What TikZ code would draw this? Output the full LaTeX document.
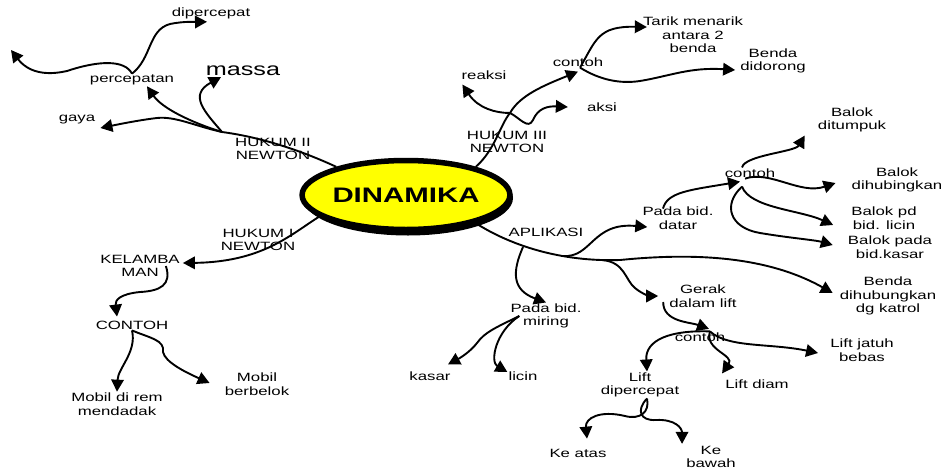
\documentclass[tikz,border=0pt]{standalone}
\usepackage{fontspec}
\setmainfont{Liberation Sans}[FakeStretch=1.4]
\usetikzlibrary{arrows.meta}
\usetikzlibrary{shapes.geometric}
\definecolor{kuning}{RGB}{255, 255, 0}
\tikzset{
  lbl/.style={align=center, inner sep=1pt, font=\fontsize{12}{13.5}\selectfont},
  cabang/.style={line width=1.9pt},
  panah/.style={cabang, -{Triangle[length=12pt,width=12.5pt]}},
}

\begin{document}
\begin{tikzpicture}[x=1pt,y=-1pt]
\useasboundingbox (0,0) rectangle (944,469);
% pusat
\fill[black] (408,198) ellipse (105pt and 37.5pt);
\node[ellipse, draw, line width=5.5pt, fill=kuning, minimum width=205pt, minimum height=69pt, inner sep=0pt,
      font=\fontsize{21}{24}\selectfont\bfseries] (dinamika) at (406,195) {DINAMIKA};

% label
\node[lbl] (hk2)        at (273,149) {HUKUM II\\NEWTON};
\node[lbl] (hk3)        at (507,142) {HUKUM III\\NEWTON};
\node[lbl] (hk1)        at (258,240) {HUKUM I\\NEWTON};
\node[lbl] (aplikasi)   at (546,232) {APLIKASI};
\node[lbl] (gaya)       at ( 77,120) {gaya};
\node[lbl] (percepatan) at (132, 80) {percepatan};
\node[lbl, font=\fontsize{18}{20}\selectfont] (massa) at (243,71) {massa};
\node[lbl] (dipercepat) at (211, 13) {dipercepat};
\node[lbl] (reaksi)     at (484, 75) {reaksi};
\node[lbl] (aksi)       at (602,107) {aksi};
\node[lbl] (contoh3)    at (578, 62) {contoh};
\node[lbl] (tarik)      at (693, 35) {Tarik menarik\\antara 2\\benda};
\node[lbl] (didorong)   at (773, 61) {Benda\\didorong};
\node[lbl] (kelambaman) at (140,266) {KELAMBA\\MAN};
\node[lbl] (contoh1)    at (132,325) {CONTOH};
\node[lbl] (mobilrem)   at (117,404) {Mobil di rem\\mendadak};
\node[lbl] (belok)      at (257,384) {Mobil\\berbelok};
\node[lbl] (miring)     at (546,316) {Pada bid.\\miring};
\node[lbl] (kasar)      at (430,376) {kasar};
\node[lbl] (licin)      at (523,376) {licin};
\node[lbl] (datar)      at (678,218) {Pada bid.\\datar};
\node[lbl] (contohd)    at (750,173) {contoh};
\node[lbl] (tumpuk)     at (852,120) {Balok\\ditumpuk};
\node[lbl] (hubung)     at (897,180) {Balok\\dihubingkan};
\node[lbl] (licinb)     at (884,218) {Balok pd\\bid. licin};
\node[lbl] (kasarb)     at (890,247) {Balok pada\\bid.kasar};
\node[lbl] (katrol)     at (888,296) {Benda\\dihubungkan\\dg katrol};
\node[lbl] (lift)       at (703,296) {Gerak\\dalam lift};
\node[lbl] (contohl)    at (700,337) {contoh};
\node[lbl] (jatuh)      at (862,350) {Lift jatuh\\bebas};
\node[lbl] (diam)       at (757,384) {Lift diam};
\node[lbl] (liftcepat)  at (640,385) {Lift\\dipercepat};
\node[lbl] (atas)       at (578,453) {Ke atas};
\node[lbl] (bawah)      at (711,457) {Ke\\bawah};

% titik cabang
\coordinate (j2)   at (222,132);
\coordinate (j3)   at (510,113);
\coordinate (kiri) at ( 11, 50);
\coordinate (am)   at (523,247);
\coordinate (ad)   at (563,256);
\coordinate (al)   at (602,260);

% hukum II
\draw[cabang] (dinamika.158) .. controls (300,150) and (260,137) .. (j2);
\draw[panah] (j2) .. controls (195,126) and (175,116) .. (157,118) .. controls (140,120) and (120,124) .. ([xshift=4pt,yshift=-8pt]gaya.east);
\draw[panah] (j2) .. controls (190,122) and (162,108) .. ([xshift=15pt]percepatan.south);
\draw[panah] (j2) .. controls (205,112) and (188,95) .. ([xshift=-22pt]massa.south);
\draw[panah] (percepatan.north) .. controls (125,60) and (100,60) .. (67,71) .. controls (45,76) and (28,72) .. (kiri);
\draw[panah] (percepatan.north) .. controls (152,58) and (148,30) .. (170,24) .. controls (185,21) and (195,22) .. ([xshift=-4pt,yshift=-2pt]dipercepat.south);

% hukum III
\draw[cabang] (dinamika.22) .. controls (495,150) and (500,125) .. (j3);
\draw[panah] (j3) .. controls (520,95) and (545,85) .. ([yshift=-4pt]contoh3.south);
\draw[panah] (j3) .. controls (495,113) and (478,108) .. ([xshift=2pt,yshift=-4pt]reaksi.south west);
\draw[panah] (j3) .. controls (520,118) and (528,130) .. (533,120) .. controls (538,108) and (548,106) .. ([xshift=-18pt]aksi.west);
\draw[panah] ([xshift=2pt]contoh3.south) .. controls (596,40) and (598,26) .. ([xshift=5pt,yshift=8pt]tarik.west);
\draw[panah] ([xshift=2pt]contoh3.south) .. controls (600,80) and (620,84) .. (640,81) .. controls (670,76) and (690,67) .. ([xshift=-4pt,yshift=-9pt]didorong.west);

% hukum I
\draw[panah] (dinamika.194) .. controls (290,235) and (262,262) .. ([xshift=2pt,yshift=3pt]kelambaman.east);
\draw[panah] ([xshift=-15pt]kelambaman.east) .. controls (172,285) and (160,291) .. (140,292) .. controls (120,294) and (115,300) .. ([xshift=-15pt,yshift=3pt]contoh1.north);
\draw[panah] (contoh1.south) .. controls (137,352) and (118,368) .. (mobilrem.north);
\draw[panah] (contoh1.south) .. controls (150,338) and (165,340) .. (163,352) .. controls (165,362) and (185,372) .. ([xshift=-14pt,yshift=1pt]belok.west);

% aplikasi
\draw[panah] (dinamika.-22) .. controls (510,245) and (560,262) .. (620,260) .. controls (690,253) and (765,255) .. ([xshift=-6pt,yshift=3pt]katrol.west);
\draw[panah] (am) .. controls (512,272) and (512,290) .. (miring.north);
\draw[panah] ([xshift=10pt]miring.west) .. controls (495,328) and (485,332) .. (477,343) .. controls (470,352) and (460,358) .. ([xshift=18pt,yshift=6pt]kasar.north);
\draw[panah] ([xshift=10pt]miring.west) .. controls (495,332) and (490,362) .. ([yshift=4pt]licin.west);
\draw[panah] (ad) .. controls (592,258) and (592,222) .. ([xshift=6pt,yshift=-9pt]datar.west);
\draw[panah] ([xshift=-15pt,yshift=-3pt]datar.north) .. controls (667,192) and (690,190) .. ([xshift=-10pt,yshift=-3pt]contohd.south);
\draw[panah] ([xshift=-8pt]contohd.north) .. controls (745,155) and (795,152) .. ([xshift=-12pt,yshift=-2pt]tumpuk.south west);
\draw[panah] ([xshift=-5pt]contohd.south) .. controls (770,170) and (800,195) .. ([xshift=-15pt,yshift=-3pt]hubung.west);
\draw[panah] ([xshift=-8pt,yshift=-8pt]contohd.south) .. controls (750,208) and (800,210) .. ([xshift=-17pt,yshift=-7pt]licinb.west);
\draw[panah] ([xshift=-8pt,yshift=-8pt]contohd.south) .. controls (722,205) and (730,228) .. (760,233) .. controls (790,238) and (815,240) .. ([xshift=-14pt,yshift=2pt]kasarb.west);
\draw[panah] (al) .. controls (625,262) and (625,280) .. (635,288) .. controls (642,294) and (650,296) .. ([xshift=-10pt]lift.west);
\draw[panah] ([xshift=-5pt,yshift=-6pt]lift.west) .. controls (663,322) and (690,322) .. ([xshift=9pt,yshift=2.5pt]contohl.north);
\draw[panah] ([xshift=10pt]contohl.north) .. controls (728,348) and (770,343) .. ([xshift=-11pt,yshift=-3pt]jatuh.west);
\draw[panah] ([xshift=10pt]contohl.north) .. controls (704,350) and (735,355) .. ([xshift=-2pt,yshift=5pt]diam.north west);
\draw[panah] ([xshift=10pt]contohl.north) .. controls (670,330) and (645,340) .. ([xshift=7pt]liftcepat.north);
\draw[panah] ([xshift=7pt]liftcepat.south) .. controls (650,412) and (640,420) .. (625,416) .. controls (600,410) and (585,418) .. ([xshift=9pt,yshift=9pt]atas.north);
\draw[panah] ([xshift=7pt]liftcepat.south) .. controls (636,410) and (640,421) .. (656,420) .. controls (675,419) and (682,428) .. ([xshift=-3pt,yshift=1pt]bawah.north west);
\end{tikzpicture}
\end{document}
